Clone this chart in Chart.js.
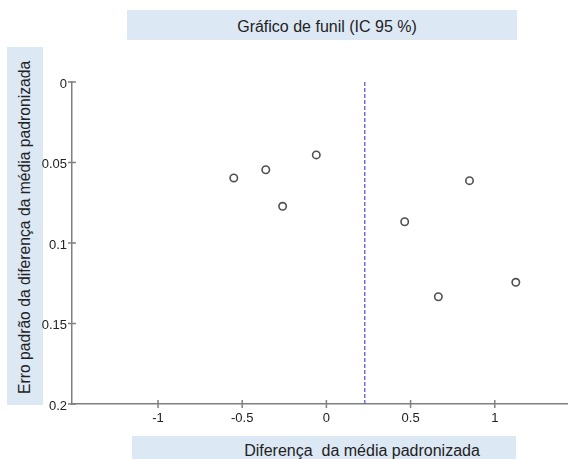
<!DOCTYPE html>
<html>
<head>
<meta charset="utf-8">
<script src="https://cdn.jsdelivr.net/npm/chart.js@4/dist/chart.umd.min.js"></script>
<style>
    body { margin: 0; background: #fff; }
    #wrap { position: relative; width: 568px; height: 459px; overflow: hidden; font-family: "Liberation Sans", Arial, sans-serif; color: #222; }
    .box { position: absolute; background: #dde8f5; font-size: 16px; }
    #title { left: 127px; top: 10px; width: 390px; height: 30px; line-height: 30px; text-align: center; padding-left: 10px; padding-top: 2px; box-sizing: border-box; }
    #xTitle { left: 132px; top: 436px; width: 384px; height: 30px; line-height: 30px; text-align: center; padding-left: 76px; box-sizing: border-box; white-space: pre; }
    #yTitle { left: 7px; top: 47px; width: 36px; height: 358px; font-size: 15.7px; writing-mode: vertical-rl; transform: rotate(180deg); text-align: center; line-height: 36px; padding-bottom: 2px; box-sizing: border-box; }
    canvas { position: absolute; left: 0; top: 0; }
</style>
</head>
<body>
<div id="wrap">
    <div class="box" id="title">Gráfico de funil (IC 95 %)</div>
    <div class="box" id="xTitle">Diferença  da média padronizada</div>
    <div class="box" id="yTitle">Erro padrão da diferença da média padronizada</div>
    <canvas id="funil" width="568" height="459"></canvas>
</div>
<script>
    // estudos: diferenca da media padronizada x erro padrao
    const smd = [-0.55, -0.36, -0.26, -0.06, 0.465, 0.85, 0.665, 1.125];
    const se = [0.0596, 0.0545, 0.0772, 0.0453, 0.0868, 0.0613, 0.1334, 0.1244];
    const pooled = 0.228;

    const xTicks = [-1, -0.5, 0, 0.5, 1];
    const yTicks = [0, 0.05, 0.1, 0.15, 0.2];

    const crossTicks = {
        id: "crossTicks",
        afterDatasetsDraw: function (chart) {
            const ctx = chart.ctx;
            const area = chart.chartArea;
            ctx.save();
            ctx.strokeStyle = "#808080";
            ctx.lineWidth = 1.5;
            ctx.beginPath();
            chart.scales.x.ticks.forEach(t => {
                const px = chart.scales.x.getPixelForValue(t.value);
                ctx.moveTo(px, area.bottom - 4);
                ctx.lineTo(px, area.bottom + 4);
            });
            chart.scales.y.ticks.forEach(t => {
                const py = chart.scales.y.getPixelForValue(t.value);
                ctx.moveTo(area.left - 4, py);
                ctx.lineTo(area.left + 4, py);
            });
            ctx.stroke();
            ctx.restore();
        }
    };

    const tickFont = { family: "'Liberation Sans', Arial, sans-serif", size: 13 };

    new Chart(document.getElementById("funil"), {
        type: "scatter",
        data: {
            datasets: [
                {
                    data: smd.map((v, i) => ({ x: v, y: se[i] })),
                    pointRadius: 3.7,
                    pointBorderWidth: 1.6,
                    pointBorderColor: "#505050",
                    pointBackgroundColor: "#fff",
                    order: 1
                },
                {
                    type: "line",
                    data: [{ x: pooled, y: 0 }, { x: pooled, y: 0.2 }],
                    borderColor: "#5a5ae0",
                    borderWidth: 1.3,
                    borderDash: [4, 2],
                    pointRadius: 0,
                    order: 2
                }
            ]
        },
        options: {
            responsive: false,
            animation: false,
            layout: { autoPadding: false, padding: { top: 82, left: 0, right: 0, bottom: 0 } },
            plugins: {
                legend: { display: false },
                tooltip: { enabled: false }
            },
            scales: {
                x: {
                    type: "linear",
                    min: -1.511,
                    max: 1.435,
                    afterFit: s => { s.height = 55; },
                    afterBuildTicks: s => { s.ticks = xTicks.map(v => ({ value: v })); },
                    grid: { display: false, drawTicks: false },
                    border: { display: true, color: "#808080", width: 1.5 },
                    ticks: { color: "#222", font: tickFont, padding: 7, callback: v => String(v) }
                },
                y: {
                    type: "linear",
                    reverse: true,
                    min: 0,
                    max: 0.2,
                    afterFit: s => { s.width = 72; },
                    afterBuildTicks: s => { s.ticks = yTicks.map(v => ({ value: v })); },
                    grid: { display: false, drawTicks: false },
                    border: { display: true, color: "#808080", width: 1.5 },
                    ticks: { color: "#222", font: tickFont, padding: 5, labelOffset: 2, callback: v => String(v) }
                }
            }
        },
        plugins: [crossTicks]
    });
</script>
</body>
</html>
